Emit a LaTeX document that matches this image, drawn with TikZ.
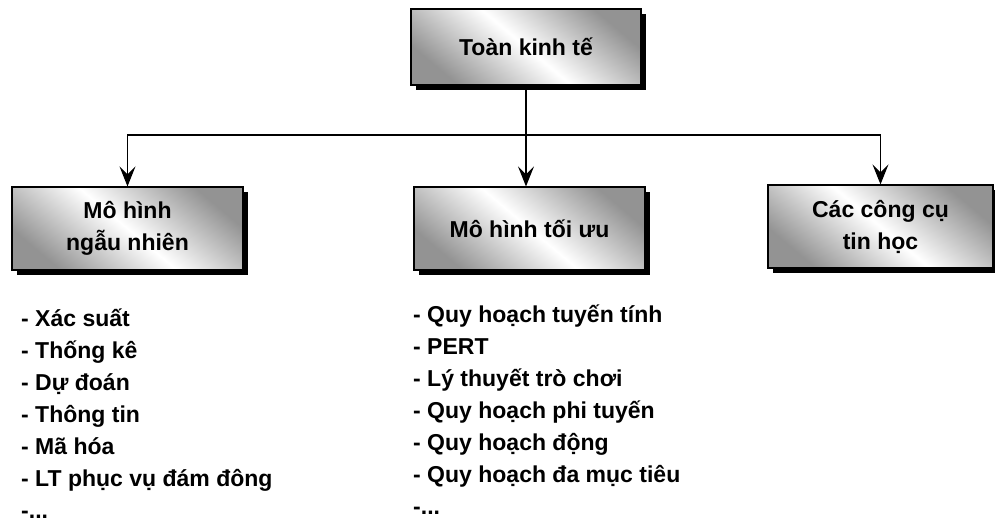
\documentclass[tikz,border=0pt]{standalone}
\usepackage{fontspec}
\setmainfont{Liberation Sans}
\usetikzlibrary{shadows,arrows.meta}
\begin{document}
\begin{tikzpicture}[x=1pt,y=-1pt,
  box/.style={draw=black, line width=1.2pt, align=center, inner sep=0pt,
    font=\bfseries\fontsize{23}{32}\selectfont,
    left color=gray!85, right color=gray!85, middle color=white, shading angle=-40,
    drop shadow={shadow xshift=5pt, shadow yshift=-5pt, fill=black, opacity=1}},
  item/.style={anchor=base west, inner sep=0pt, font=\bfseries\fontsize{23}{28}\selectfont},
  arr/.style={line width=1.2pt, -{Stealth[length=20pt,width=16pt,inset=8pt]}},
  conn/.style={line width=1.2pt}]
\useasboundingbox (0,0) rectangle (995,525);
\node[box, minimum width=230pt, minimum height=76pt] (top) at (526,47) {Toàn kinh tế};
\node[box, minimum width=231pt, minimum height=83pt] (lbox) at (127.5,228.5) {Mô hình\\ngẫu nhiên};
\node[box, minimum width=231pt, minimum height=83pt] (mbox) at (529.5,228.5) {Mô hình tối ưu};
\node[box, minimum width=225pt, minimum height=83pt] (rbox) at (880.5,226.5) {Các công cụ\\tin học};
\coordinate (j) at (top.south |- 0,135);
\draw[conn] (top.south) -- (j);
\draw[arr] (j) -| (lbox.north);
\draw[arr] (j) -| (rbox.north);
\draw[arr] (j) -- (j |- mbox.north);
\foreach \t [count=\i] in {{- Xác suất}, {- Thống kê}, {- Dự đoán}, {- Thông tin}, {- Mã hóa}, {- LT phục vụ đám đông}, {-{.}{.}{.}}}
  \node[item] (la\i) at (21,{326+32*(\i-1)}) {\t};
\foreach \t [count=\i] in {{- Quy hoạch tuyến tính}, {- PERT}, {- Lý thuyết trò chơi}, {- Quy hoạch phi tuyến}, {- Quy hoạch động}, {- Quy hoạch đa mục tiêu}, {-{.}{.}{.}}}
  \node[item] (lm\i) at (413,{322+32*(\i-1)}) {\t};
\end{tikzpicture}
\end{document}
